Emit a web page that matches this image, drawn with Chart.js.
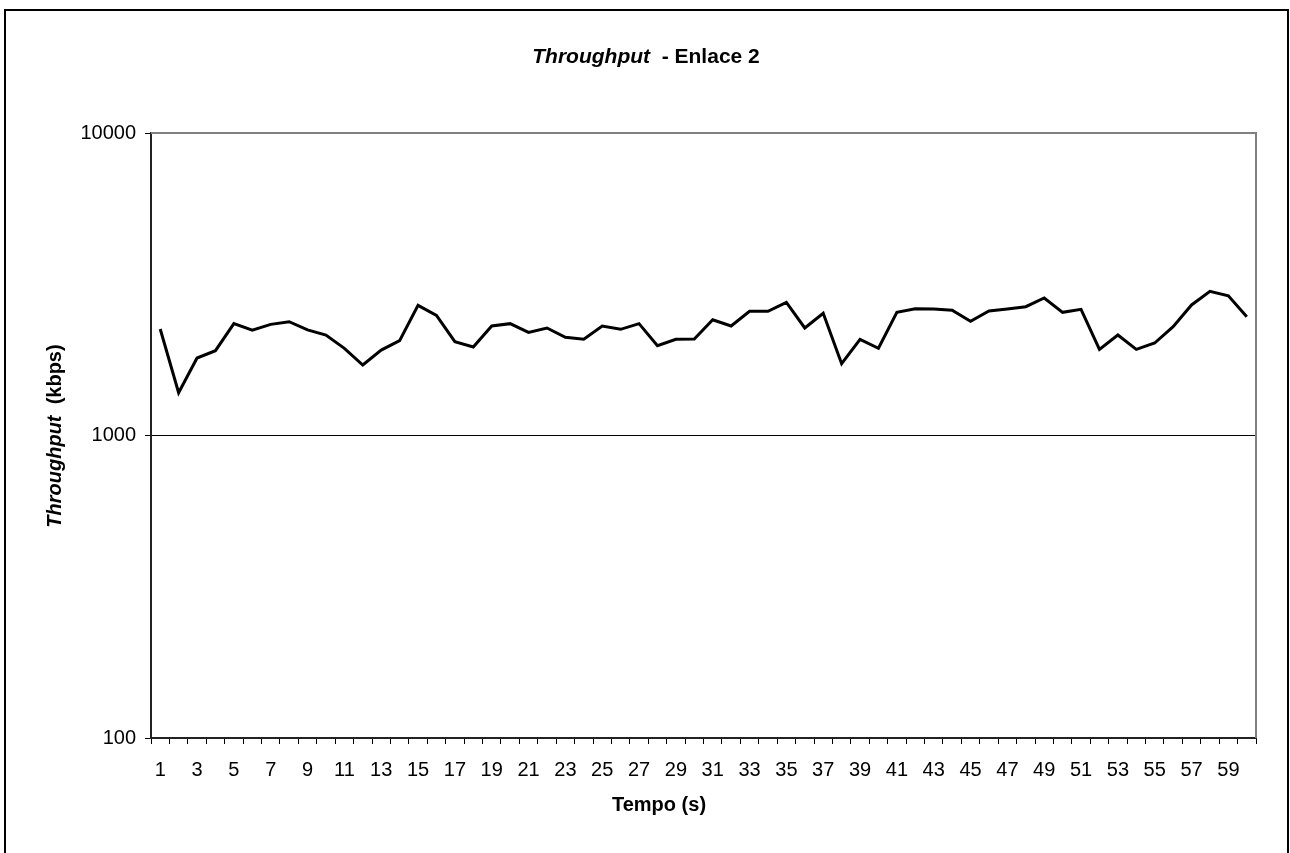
<!DOCTYPE html>
<html>
<head>
<meta charset="utf-8">
<script src="https://cdn.jsdelivr.net/npm/chart.js@4.4.0/dist/chart.umd.min.js"></script>
<style>
html,body{margin:0;padding:0;background:#fff;}
#wrap{position:relative;width:1290px;height:853px;}
</style>
</head>
<body>
<div id="wrap"><canvas id="c" width="1290" height="853"></canvas></div>
<script>
const categories = ["1","2","3","4","5","6","7","8","9","10","11","12","13","14","15","16","17","18","19","20","21","22","23","24","25","26","27","28","29","30","31","32","33","34","35","36","37","38","39","40","41","42","43","44","45","46","47","48","49","50","51","52","53","54","55","56","57","58","59","60"];
const throughputKbps = [2249,1385,1803,1907,2343,2228,2330,2378,2235,2149,1942,1710,1916,2058,2693,2496,2042,1962,2301,2343,2193,2267,2111,2080,2301,2244,2343,1981,2080,2085,2414,2301,2574,2574,2755,2267,2535,1728,2080,1942,2554,2626,2620,2594,2385,2580,2620,2666,2848,2554,2612,1927,2149,1927,2022,2290,2701,2998,2897,2470];
const yTickValues = [100,1000,10000];
const chartTitleItalic = "Throughput";
const chartTitleRest = "  - Enlace 2";
const yTitleItalic = "Throughput";
const yTitleRest = "  (kbps)";
const xTitle = "Tempo (s)";

const FONT = '"Liberation Sans", Arial, Helvetica, sans-serif';

function drawMixed(ctx, parts, cx, cy) {
  let total = 0;
  const widths = parts.map(p => { ctx.font = p.font; const w = ctx.measureText(p.text).width; total += w; return w; });
  let x = cx - total / 2;
  parts.forEach((p, i) => { ctx.font = p.font; ctx.fillText(p.text, x, cy); x += widths[i]; });
}

const decor = {
  id: 'decor',
  beforeDraw(chart) {
    const ctx = chart.ctx;
    ctx.save();
    ctx.fillStyle = '#fff';
    ctx.fillRect(0, 0, chart.width, chart.height);
    ctx.strokeStyle = '#000';
    ctx.lineWidth = 2;
    ctx.strokeRect(5, 10, 1283, 860);
    ctx.restore();
  },
  beforeDatasetsDraw(chart) {
    const ctx = chart.ctx, a = chart.chartArea;
    ctx.save();
    ctx.strokeStyle = '#808080';
    ctx.lineWidth = 2;
    ctx.beginPath();
    ctx.moveTo(a.left, a.top);
    ctx.lineTo(a.right, a.top);
    ctx.lineTo(a.right, a.bottom);
    ctx.stroke();
    ctx.restore();
  },
  afterDraw(chart) {
    const ctx = chart.ctx;
    ctx.save();
    ctx.fillStyle = '#000';
    ctx.textBaseline = 'middle';
    ctx.textAlign = 'left';
    drawMixed(ctx, [
      {text: chartTitleItalic, font: 'italic bold 21px ' + FONT},
      {text: chartTitleRest, font: 'bold 21px ' + FONT}
    ], 646, 57);
    drawMixed(ctx, [{text: xTitle, font: 'bold 20px ' + FONT}], 659, 805);
    ctx.translate(55, 436);
    ctx.rotate(-Math.PI / 2);
    drawMixed(ctx, [
      {text: yTitleItalic, font: 'italic bold 20px ' + FONT},
      {text: yTitleRest, font: 'bold 20px ' + FONT}
    ], 0, 0);
    ctx.restore();
  }
};

new Chart(document.getElementById('c'), {
  type: 'line',
  data: {
    labels: categories,
    datasets: [{
      data: throughputKbps,
      borderColor: '#000',
      borderWidth: 3,
      pointRadius: 0,
      tension: 0,
      fill: false
    }]
  },
  options: {
    responsive: false,
    animation: false,
    layout: { padding: { left: 0, right: 34, top: 133, bottom: 0 } },
    plugins: { legend: { display: false }, tooltip: { enabled: false }, title: { display: false } },
    scales: {
      x: {
        type: 'category',
        offset: true,
        grid: { offset: true, drawOnChartArea: false, color: '#000', tickColor: '#000', tickLength: 6, lineWidth: 1 },
        border: { display: true, color: '#222', width: 2 },
        ticks: {
          autoSkip: false, maxRotation: 0, minRotation: 0, padding: 14,
          color: '#000', font: { family: FONT, size: 20 },
          callback: function(v, i) { return i % 2 === 0 ? this.getLabelForValue(v) : ''; }
        },
        afterFit: s => { s.height = 853 - 738; }
      },
      y: {
        type: 'logarithmic',
        min: 100, max: 10000,
        afterBuildTicks: s => { s.ticks = yTickValues.map(v => ({ value: v })); },
        grid: {
          drawOnChartArea: true,
          color: c => (c.tick && c.tick.value === 1000) ? '#000' : 'rgba(0,0,0,0)',
          tickColor: '#000', tickLength: 6, lineWidth: 1
        },
        border: { display: true, color: '#222', width: 2 },
        ticks: {
          padding: 9, color: '#000', font: { family: FONT, size: 20 },
          callback: v => String(v)
        },
        afterFit: s => { s.width = 151; }
      }
    }
  },
  plugins: [decor]
});
</script>
</body>
</html>
